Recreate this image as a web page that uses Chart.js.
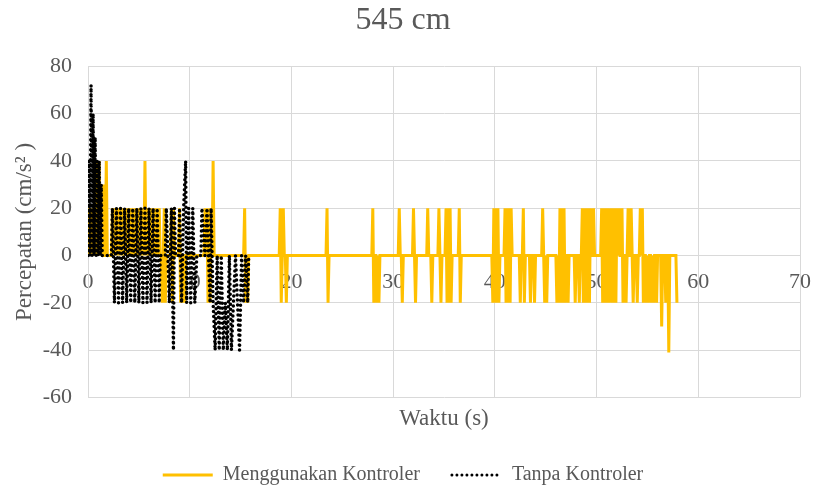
<!DOCTYPE html>
<html>
<head>
<meta charset="utf-8">
<script src="https://cdn.jsdelivr.net/npm/chart.js@4.4.1/dist/chart.umd.min.js"></script>
<style>
  html, body { margin: 0; padding: 0; background: #fff; }
  #wrap { width: 814px; height: 491px; }
</style>
</head>
<body>
<div id="wrap"><canvas id="chart" width="814" height="491"></canvas></div>
<script>
/* ---------- data (waktu s, percepatan cm/s2) ---------- */
const chartTitle = '545 cm';
const seriesNames = ['Menggunakan Kontroler', 'Tanpa Kontroler'];
const xTicks = [0, 10, 20, 30, 40, 50, 60, 70];
const yTicks = [-60, -40, -20, 0, 20, 40, 60, 80];

// Menggunakan Kontroler  [waktu, percepatan]
const denganKontroler = [
  [0,0],[0.1,20],[0.2,0],[0.3,20],[0.4,0],[0.5,20],[0.6,0],[0.7,40],[0.8,0],[0.9,40],[1.0,0],[1.1,40],
  [1.2,0],[1.3,30],[1.4,0],[1.5,30],[1.6,0],[1.7,0],[1.8,40],[1.9,0],[2.3,0],
  [2.4,20],[2.5,0],[2.6,20],[2.7,0],[2.8,20],[2.9,0],[3.0,20],[3.1,0],[3.2,20],[3.3,0],[3.4,20],[3.5,0],
  [3.6,20],[3.7,0],[3.8,20],[3.9,0],[4.0,20],[4.1,0],[4.2,20],[4.3,0],[4.4,20],[4.5,0],[4.6,20],[4.7,0],
  [4.8,20],[4.9,0],[5.0,20],[5.1,0],[5.2,20],[5.3,0],[5.4,20],[5.5,0],[5.6,40],[5.7,0],[5.8,20],[5.9,0],
  [6.0,20],[6.1,0],[6.2,20],[6.3,0],[6.4,20],[6.5,0],[6.6,20],[6.7,0],[6.8,20],[6.9,0],[7.0,20],[7.1,0],
  [7.2,0],[7.3,-20],[7.4,0],[7.5,20],[7.6,-20],[7.7,0],[8.1,0],[8.2,20],[8.3,-20],[8.4,20],[8.5,0],
  [8.9,0],[9.0,20],[9.1,-20],[9.2,0],[9.3,-20],[9.4,0],[9.5,-20],[9.6,0],
  [11.4,0],[11.5,20],[11.6,0],[11.7,20],[11.8,-20],[11.9,20],[12.0,-20],[12.1,20],[12.2,0],[12.3,40],[12.4,0],
  [15.3,0],[15.4,20],[15.5,-20],[15.6,0],[15.7,-20],[15.8,0],
  [18.8,0],[18.9,20],[19.0,-20],[19.1,0],[19.2,20],[19.3,0],[19.4,0],[19.5,-20],[19.6,0],
  [23.4,0],[23.5,20],[23.6,-20],[23.7,0],
  [27.9,0],[28.0,20],[28.1,-20],[28.2,0],[28.3,0],[28.4,-20],[28.5,0],[28.6,-20],[28.7,0],
  [30.5,0],[30.6,20],[30.7,0],[30.8,0],[30.9,-20],[31.0,0],
  [31.9,0],[32.0,20],[32.1,0],[32.2,-20],[32.3,0],
  [33.3,0],[33.4,20],[33.5,0],[33.7,0],[33.8,-20],[33.9,0],
  [34.4,0],[34.5,20],[34.6,0],[34.7,-20],[34.8,0],
  [35.1,0],[35.2,20],[35.3,-20],[35.4,20],[35.5,-20],[35.6,20],[35.7,-20],[35.8,0],
  [36.4,0],[36.5,20],[36.6,-20],[36.7,0],
  [39.7,0],[39.8,-20],[39.9,20],[40.0,-20],[40.1,20],[40.2,-20],[40.3,20],[40.4,-20],[40.5,0],
  [40.9,0],[41.0,20],[41.1,-20],[41.2,20],[41.3,-20],[41.4,20],[41.5,-20],[41.6,20],[41.7,0],
  [42.4,0],[42.5,-20],[42.6,0],[42.7,0],[42.8,20],[42.9,-20],[43.0,0],
  [43.4,0],[43.5,-20],[43.6,0],[43.8,0],[43.9,-20],[44.0,0],
  [44.6,0],[44.7,20],[44.8,0],[44.9,-20],[45.0,0],[45.1,-20],[45.2,0],
  [46.0,0],[46.1,-20],[46.2,0],[46.3,-20],[46.4,20],[46.5,-20],[46.6,20],[46.7,-20],[46.8,20],[46.9,-20],
  [47.0,0],[47.1,0],[47.2,-20],[47.3,0],
  [47.8,0],[47.9,-20],[48.0,0],[48.2,0],[48.3,-20],[48.4,0],[48.5,0],[48.6,20],[48.7,-20],[48.8,20],
  [48.9,-20],[49.0,20],[49.1,-20],[49.2,20],[49.3,-20],[49.4,20],[49.5,0],[49.6,0],[49.7,20],[49.8,0],
  [50.4,0],[50.5,20],[50.6,-20],[50.7,20],[50.8,-20],[50.9,20],[51.0,-20],[51.1,20],[51.2,-20],[51.3,0],
  [51.4,20],[51.5,-20],[51.6,20],[51.7,-20],[51.8,20],[51.9,-20],[52.0,20],[52.1,0],[52.2,20],[52.3,0],
  [52.4,0],[52.5,20],[52.6,-20],[52.7,0],[52.8,0],[52.9,-20],[53.0,0],[53.1,20],[53.2,0],[53.3,0],
  [53.4,20],[53.5,0],[53.6,-20],[53.7,0],[53.9,0],[54.0,-20],[54.1,0],[54.2,0],[54.3,20],[54.4,0],
  [54.5,20],[54.6,-20],[54.7,0],[54.8,0],[54.9,-20],[55.0,0],[55.1,-20],[55.2,0],[55.3,0],[55.4,-20],
  [55.5,0],[55.6,-20],[55.7,0],[55.8,0],[55.9,-20],[56.0,0],[56.3,0],[56.4,-30],[56.5,0],[56.7,0],
  [56.8,-20],[56.9,0],[57.0,0],[57.1,-41],[57.2,0],[57.8,0],[57.9,-20]
];

// Tanpa Kontroler  [waktu, percepatan]
const tanpaKontroler = [
  [0,0],[0.1,40],[0.2,0],[0.3,72],[0.4,0],[0.5,60],[0.6,0],[0.7,50],[0.8,0],[0.9,40],[1.0,0],[1.1,40],
  [1.2,0],[1.3,30],[1.4,0],[2.3,0],
  [2.4,20],[2.6,-20],[2.8,20],[3.0,-20],[3.2,20],[3.4,-20],[3.6,20],[3.8,-20],[4.0,20],[4.2,-20],
  [4.4,20],[4.6,-20],[4.8,20],[5.0,-20],[5.2,20],[5.4,-20],[5.6,20],[5.8,-20],[6.0,20],[6.2,-20],
  [6.4,20],[6.6,-20],[6.8,20],[7.0,-20],[7.1,0],[7.6,0],
  [7.7,20],[8.0,-20],[8.2,20],[8.4,-40],[8.5,20],[8.6,0],
  [8.9,0],[9.0,20],[9.2,-20],[9.4,20],[9.6,40],[9.7,-20],[9.9,20],[10.1,-20],[10.3,20],[10.5,-20],[10.7,0],
  [11.1,0],[11.2,20],[11.5,0],[11.7,20],[12.0,-20],[12.1,20],[12.2,0],[12.3,-20],[12.5,-40],[12.7,0],
  [12.9,-40],[13.1,0],[13.3,-40],[13.5,-20],[13.7,-40],[13.9,0],[14.1,-40],[14.3,-20],[14.5,0],
  [14.7,-20],[14.9,-40],[15.1,0],[15.3,-20],[15.5,0],[15.7,-20],[15.8,0]
];

/* ---------- chart ---------- */
const serif = "'Liberation Serif', 'Times New Roman', serif";
const grey  = '#595959';
const gridC = '#D9D9D9';
const toXY  = arr => arr.map(p => ({ x: p[0], y: p[1] }));

new Chart(document.getElementById('chart'), {
  type: 'line',
  data: {
    datasets: [
      {
        label: seriesNames[0],
        data: toXY(denganKontroler),
        borderColor: '#FFC000',
        backgroundColor: '#FFC000',
        borderWidth: 3,
        pointRadius: 0,
        tension: 0,
        order: 1
      },
      {
        label: seriesNames[1],
        data: toXY(tanpaKontroler),
        borderColor: '#000000',
        backgroundColor: '#000000',
        borderWidth: 3.5,
        borderDash: [0, 5],
        borderCapStyle: 'round',
        pointRadius: 0,
        tension: 0,
        order: 0
      }
    ]
  },
  options: {
    responsive: false,
    animation: false,
    layout: { padding: { left: 6, right: 14, top: 0, bottom: -4 } },
    plugins: {
      title: {
        display: true,
        text: chartTitle,
        color: grey,
        font: { family: serif, size: 32, weight: 'normal' },
        padding: { top: 1, bottom: 27 }
      },
      legend: {
        position: 'bottom',
        labels: {
          color: grey,
          font: { family: serif, size: 20 },
          usePointStyle: true,
          pointStyle: 'line',
          pointStyleWidth: 50,
          padding: 32,
          sort: (a, b) => a.datasetIndex - b.datasetIndex,
          generateLabels: chart => {
            const items = Chart.defaults.plugins.legend.labels.generateLabels(chart);
            items.forEach(it => {
              const ds = chart.data.datasets[it.datasetIndex];
              it.lineDash = ds.borderDash || [];
              it.lineCap = ds.borderCapStyle || 'butt';
              it.lineWidth = 3;
              it.strokeStyle = ds.borderColor;
            });
            return items;
          }
        }
      },
      tooltip: { enabled: false }
    },
    scales: {
      x: {
        type: 'linear',
        position: { y: 0 },
        min: 0, max: 70,
        afterBuildTicks: s => { s.ticks = xTicks.map(v => ({ value: v })); },
        afterFit: s => { s.paddingLeft = 0; s.paddingRight = 0; },
        ticks: { color: grey, font: { family: serif, size: 22 }, padding: 13, maxRotation: 0 },
        grid: { color: gridC, lineWidth: 1, drawTicks: false },
        border: { color: gridC }
      },
      x2: {
        type: 'linear',
        position: 'bottom',
        min: 0, max: 70,
        ticks: { display: false },
        grid: { display: false, drawTicks: false },
        border: { display: false },
        title: {
          display: true,
          text: 'Waktu (s)',
          color: grey,
          font: { family: serif, size: 23 },
          padding: { top: 8, bottom: 0 }
        }
      },
      y: {
        type: 'linear',
        min: -60, max: 80,
        afterBuildTicks: s => { s.ticks = yTicks.map(v => ({ value: v })); },
        afterFit: s => { s.width = 82; },
        ticks: { color: grey, font: { family: serif, size: 22 }, padding: 16 },
        grid: { color: gridC, lineWidth: 1, drawTicks: false },
        border: { color: gridC },
        title: {
          display: true,
          text: 'Percepatan (cm/s² )',
          color: grey,
          font: { family: serif, size: 23 },
          padding: { top: 5, bottom: 0 }
        }
      }
    }
  }
});
</script>
</body>
</html>
